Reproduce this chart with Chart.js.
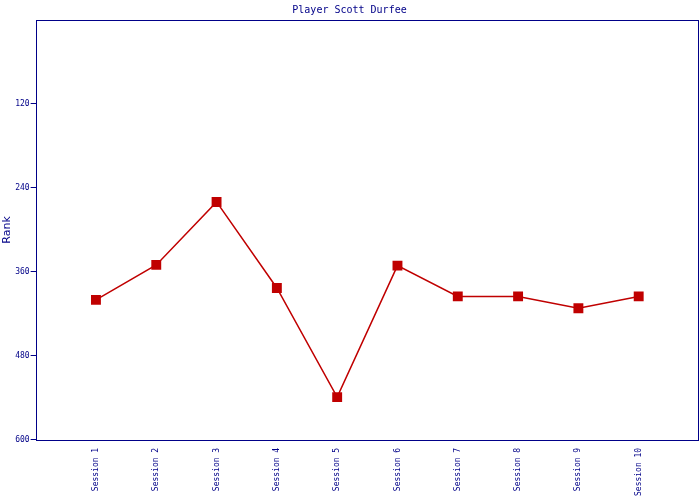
<!DOCTYPE html>
<html>
<head>
<meta charset="utf-8">
<script src="https://cdn.jsdelivr.net/npm/chart.js@4.4.1/dist/chart.umd.min.js"></script>
<style>
  html, body { margin: 0; padding: 0; background: #fff; }
  #wrap { width: 700px; height: 500px; }
</style>
</head>
<body>
<div id="wrap"><canvas id="rankChart"></canvas></div>
<script>
// datos
const sessions = ['Session 1', 'Session 2', 'Session 3', 'Session 4', 'Session 5',
                  'Session 6', 'Session 7', 'Session 8', 'Session 9', 'Session 10'];
const ranks = [400, 350, 260, 383, 539, 351, 395, 395, 412, 395];
const rankTicks = [0, 120, 240, 360, 480, 600];

const NAVY = '#000088';
const RED = '#C00000';

// huecos vacios a cada lado, como en el original
const labels = [''].concat(sessions, ['']);
const values = [null].concat(ranks, [null]);

// marco completo alrededor del area
const framePlugin = {
    id: 'frame',
    afterDraw(chart) {
        const { ctx, chartArea: a } = chart;
        ctx.save();
        ctx.strokeStyle = NAVY;
        ctx.lineWidth = 1;
        ctx.strokeRect(Math.round(a.left) + 0.5, Math.round(a.top) + 0.5,
                       Math.round(a.right - a.left) - 1, Math.round(a.bottom - a.top));
        ctx.restore();
    }
};

new Chart(document.getElementById('rankChart'), {
    type: 'line',
    data: {
        labels,
        datasets: [{
            label: 'Rank',
            data: values,
            borderColor: RED,
            backgroundColor: RED,
            borderWidth: 1.5,
            tension: 0,
            pointStyle: 'rect',
            pointRadius: 7,
            pointHoverRadius: 7,
            pointBorderWidth: 0
        }]
    },
    options: {
        responsive: true,
        maintainAspectRatio: false,
        animation: false,
        layout: { autoPadding: false, padding: { left: 0, right: 1, top: 0, bottom: 4 } },
        plugins: {
            legend: { display: false },
            tooltip: { enabled: false },
            title: {
                display: true,
                text: 'Player Scott Durfee',
                color: NAVY,
                font: { family: 'DejaVu Sans Mono', size: 10, weight: 'normal' },
                padding: { top: 4, bottom: 4 }
            }
        },
        scales: {
            x: {
                offset: false,
                grid: { display: false },
                border: { display: false },
                ticks: {
                    color: NAVY,
                    font: { family: 'DejaVu Sans Mono', size: 8 },
                    minRotation: 90,
                    maxRotation: 90,
                    autoSkip: false,
                    padding: 0
                },
                // sin margen extra a los lados por las etiquetas vacias
                afterFit: (axis) => { axis.paddingLeft = 0; axis.paddingRight = 0; }
            },
            y: {
                reverse: true,
                min: 0,
                max: 600,
                afterBuildTicks: (axis) => { axis.ticks = rankTicks.map(v => ({ value: v })); },
                grid: {
                    drawOnChartArea: false,
                    drawTicks: true,
                    tickLength: 5,
                    color: (c) => c.tick && c.tick.value === 0 ? 'rgba(0,0,0,0)' : NAVY
                },
                border: { display: false },
                title: {
                    display: true,
                    text: 'Rank',
                    color: NAVY,
                    font: { family: 'DejaVu Sans', size: 11 },
                    padding: { top: 1, bottom: 0 }
                },
                ticks: {
                    color: NAVY,
                    font: { family: 'DejaVu Sans Mono', size: 8 },
                    padding: 1,
                    callback: (v) => v === 0 ? '' : v
                }
            }
        }
    },
    plugins: [framePlugin]
});
</script>
</body>
</html>
